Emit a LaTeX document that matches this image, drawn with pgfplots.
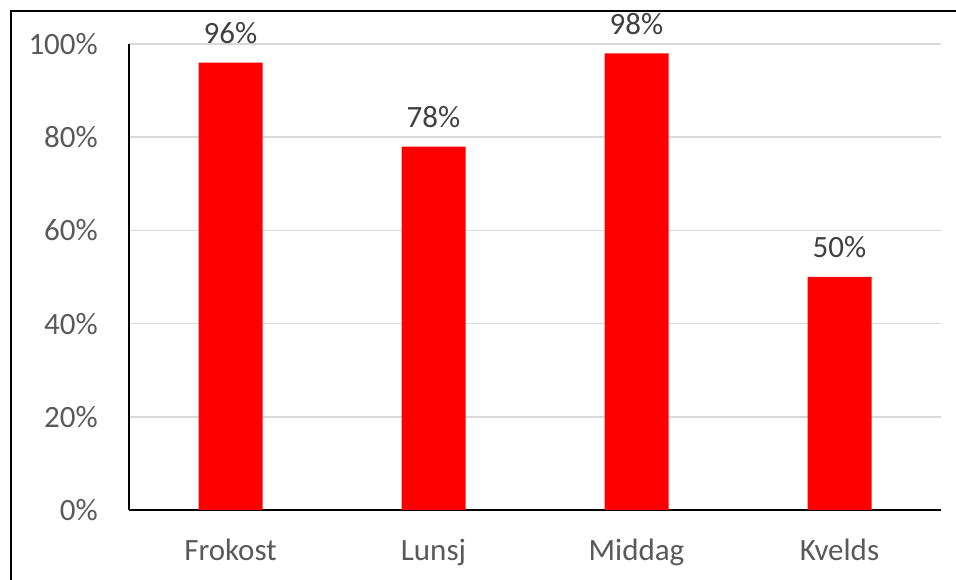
\documentclass[border=0pt]{standalone}
\usepackage{pgfplots}
\pgfplotsset{compat=1.18}
\usepackage{fontspec}
\setmainfont{Carlito}
\definecolor{ticktext}{HTML}{595959}
\definecolor{labeltext}{HTML}{404040}
\definecolor{gridc}{HTML}{D9D9D9}
\definecolor{barred}{HTML}{FF0000}
\begin{document}
\begin{tikzpicture}[x=1bp,y=1bp]
\useasboundingbox (0,0) rectangle (956,580);
\draw[line width=2bp,black] (10.5,-5) -- (10.5,569) -- (961,569);
\begin{axis}[
  at={(129bp,70bp)}, anchor=south west,
  scale only axis,
  width=812bp, height=466bp,
  xmin=-0.5, xmax=3.5,
  ymin=0, ymax=100,
  xtick={0,1,2,3},
  xticklabels={Frokost,Lunsj,Middag,Kvelds},
  ytick={0,20,40,60,80,100},
  yticklabels={0\%,20\%,40\%,60\%,80\%,100\%},
  major tick length=0pt,
  axis x line*=bottom,
  axis y line*=left,
  x axis line style={-,line width=1.5bp,black},
  y axis line style={-,line width=1.5bp,black},
  ymajorgrids,
  major grid style={gridc,line width=1.5bp},
  tick label style={font=\fontsize{31bp}{37bp}\selectfont,text=ticktext,inner sep=0pt},
  xticklabel style={anchor=base,yshift=-51bp},
  yticklabel style={anchor=east,xshift=-31bp},
  ybar, bar width=64bp, bar shift=0pt,
  point meta=explicit symbolic,
  nodes near coords,
  every node near coord/.append style={font=\fontsize{31bp}{37bp}\selectfont,text=labeltext,inner sep=0pt,anchor=base,yshift=19bp},
  clip=false,
]
\addplot[fill=barred,draw=none] coordinates {(0,96)[96\%] (1,78)[78\%] (2,98)[98\%] (3,50)[50\%]};
\end{axis}
\end{tikzpicture}
\end{document}
